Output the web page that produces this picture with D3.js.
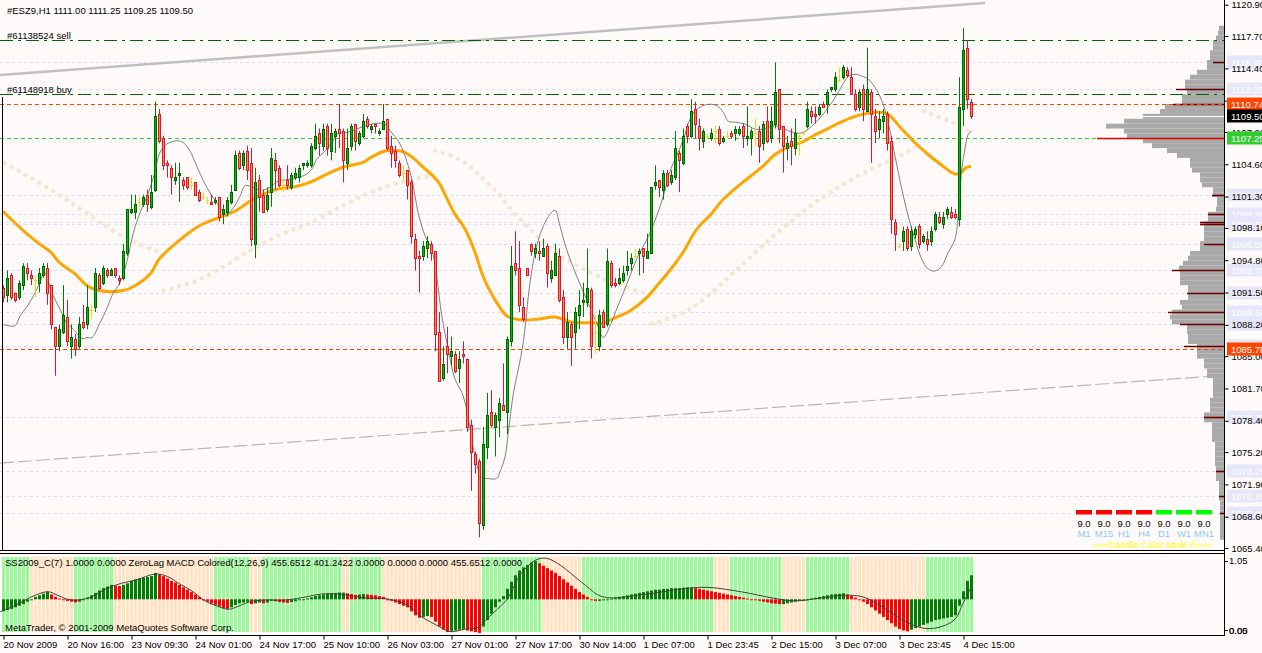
<!DOCTYPE html>
<html><head><meta charset="utf-8">
<script src="https://cdn.jsdelivr.net/npm/d3@7"></script>
<style>
body{margin:0;background:#fffafa;overflow:hidden}
svg{display:block}
text{font-family:"Liberation Sans",Arial,sans-serif;font-size:9.5px}
</style></head><body>
<svg id="c" width="1262" height="653"></svg>
<script>
// ---------------- DATA ----------------
const opens=[1092.0,1091.25,1093.25,1091.5,1091.0,1092.25,1094.0,1093.25,1092.75,1092.5,
1093.25,1094.0,1092.25,1088.0,1086.0,1087.5,1089.0,1086.0,1086.75,1086.0,
1088.5,1088.25,1089.75,1090.0,1093.25,1092.5,1093.75,1093.25,1094.0,1093.0,
1093.0,1095.5,1099.75,1099.75,1100.75,1100.5,1101.5,1100.25,1102.0,1109.75,
1107.25,1104.75,1104.25,1103.0,1103.5,1103.0,1103.25,1102.5,1102.75,1101.75,
1101.25,1101.0,1100.75,1100.75,1101.25,1099.5,1099.75,1100.75,1102.0,1105.75,
1104.5,1106.0,1104.75,1096.5,1103.0,1101.5,1100.0,1101.75,1105.0,1104.25,
1102.5,1103.0,1102.25,1103.25,1103.25,1104.5,1104.5,1104.5,1106.25,1107.75,
1106.5,1108.5,1106.0,1107.5,1108.25,1108.0,1104.75,1106.5,1108.75,1106.75,
1107.5,1109.25,1108.25,1108.75,1107.75,1108.25,1109.25,1106.5,1106.0,1104.75,
1103.75,1104.0,1102.75,1097.0,1095.25,1095.25,1096.0,1096.5,1095.75,1087.5,
1082.75,1086.0,1085.0,1085.25,1083.75,1085.25,1084.75,1078.0,1075.0,1074.25,
1067.75,1075.75,1079.25,1077.75,1078.5,1080.0,1079.25,1086.5,1094.5,1094.0,
1090.0,1094.0,1096.5,1095.5,1095.75,1095.25,1096.25,1093.0,1093.25,1095.25,
1091.0,1087.0,1088.25,1087.5,1089.25,1090.5,1090.5,1091.75,1087.5,1086.0,
1089.5,1088.25,1094.5,1092.5,1092.5,1092.75,1093.75,1094.5,1095.25,1095.5,
1096.0,1095.0,1095.5,1102.5,1103.0,1102.0,1103.75,1102.75,1103.25,1105.75,
1104.75,1108.5,1107.5,1110.25,1108.5,1107.0,1107.5,1107.25,1108.0,1108.25,
1107.0,1107.5,1107.75,1107.75,1107.75,1108.5,1107.25,1107.25,1107.75,1108.0,
1106.75,1109.0,1107.25,1108.75,1112.25,1108.5,1106.25,1107.0,1106.25,1107.5,
1107.75,1108.5,1110.0,1109.75,1109.75,1110.75,1110.75,1112.25,1112.25,1113.25,
1113.5,1114.25,1113.5,1111.75,1110.5,1112.25,1110.0,1112.0,1109.5,1108.25,
1109.0,1109.75,1107.0,1098.75,1096.25,1096.75,1098.0,1096.25,1097.5,1098.25,
1096.75,1097.0,1096.75,1098.0,1099.25,1098.5,1099.5,1099.75,1099.5,1099.0,
1110.25,1116.5,1111.0];
const highs=[1092.25,1093.75,1093.5,1091.5,1092.75,1094.5,1094.5,1093.75,1093.25,1094.0,
1094.5,1094.5,1092.25,1088.0,1088.25,1092.25,1090.75,1088.25,1087.25,1089.0,
1090.25,1092.25,1090.25,1094.0,1093.5,1094.25,1094.0,1094.0,1094.0,1093.25,
1096.5,1100.0,1101.5,1101.5,1101.25,1101.5,1102.0,1103.5,1111.0,1110.25,
1107.5,1105.0,1104.5,1104.75,1104.75,1103.25,1103.25,1103.25,1102.75,1102.0,
1101.75,1101.25,1101.5,1101.25,1101.25,1100.5,1101.25,1102.5,1106.0,1106.0,
1106.0,1106.5,1106.25,1104.25,1103.5,1102.0,1102.25,1106.25,1105.75,1104.5,
1103.25,1104.5,1103.75,1104.25,1104.5,1104.75,1105.0,1106.75,1108.75,1108.25,
1108.75,1108.75,1108.75,1108.25,1110.75,1108.25,1108.25,1108.75,1108.75,1108.0,
1109.75,1109.5,1108.75,1108.75,1108.25,1110.75,1109.25,1107.5,1106.5,1105.0,
1104.5,1104.0,1103.0,1097.5,1095.75,1096.75,1097.25,1096.75,1095.75,1089.5,
1086.0,1088.0,1087.0,1085.5,1085.5,1086.5,1084.75,1078.5,1075.25,1074.5,
1077.75,1081.25,1081.5,1079.25,1080.75,1084.25,1087.0,1096.25,1097.75,1096.75,
1091.0,1094.0,1096.5,1096.5,1096.75,1097.0,1096.5,1094.75,1096.5,1096.0,
1091.75,1089.5,1088.5,1090.0,1091.75,1092.5,1096.0,1092.0,1089.25,1089.75,
1089.75,1096.0,1094.75,1093.0,1094.0,1094.25,1095.75,1095.5,1096.0,1096.0,
1096.0,1097.5,1102.25,1104.5,1103.0,1104.0,1104.0,1104.0,1108.0,1106.0,
1108.25,1108.75,1111.25,1111.0,1109.25,1108.25,1107.75,1108.25,1108.5,1108.5,
1107.5,1108.0,1108.0,1108.5,1108.5,1108.75,1110.5,1108.25,1109.25,1108.5,
1109.0,1110.5,1110.5,1115.0,1112.25,1108.5,1107.5,1108.25,1109.25,1107.75,
1108.0,1111.0,1110.5,1110.5,1110.75,1111.0,1112.25,1112.5,1114.0,1114.5,
1114.75,1114.5,1114.5,1112.25,1112.25,1112.75,1116.5,1112.25,1110.25,1110.0,
1110.25,1110.0,1107.5,1099.0,1096.5,1098.25,1098.25,1098.25,1098.25,1098.5,
1097.5,1097.75,1098.25,1099.75,1099.75,1099.75,1100.25,1100.25,1100.0,1113.5,
1118.5,1117.25,1111.25];
const lows=[1090.5,1090.5,1090.75,1090.5,1090.75,1091.75,1092.75,1092.25,1091.0,1091.5,
1093.0,1090.25,1087.75,1083.0,1085.5,1087.25,1086.0,1084.75,1085.0,1085.75,
1087.75,1087.75,1088.75,1089.5,1091.75,1092.25,1093.0,1093.25,1093.0,1092.25,
1092.75,1095.25,1099.5,1099.0,1100.0,1100.25,1099.75,1100.0,1101.75,1106.75,
1104.0,1103.25,1101.5,1102.5,1100.75,1102.0,1102.0,1102.0,1101.5,1100.75,
1101.0,1100.5,1100.5,1100.5,1098.75,1098.5,1099.25,1100.5,1102.0,1104.0,
1104.0,1103.0,1096.25,1095.0,1099.75,1099.75,1099.75,1100.25,1102.0,1102.25,
1101.75,1102.0,1102.0,1103.0,1102.75,1104.0,1104.25,1104.25,1106.0,1105.5,
1106.0,1105.5,1105.0,1105.75,1106.25,1102.75,1104.0,1106.0,1106.0,1106.5,
1107.25,1108.25,1107.75,1107.75,1107.5,1108.25,1106.0,1104.25,1104.25,1103.25,
1103.0,1101.0,1096.5,1093.75,1091.5,1094.75,1095.0,1094.75,1085.5,1082.5,
1082.5,1083.25,1084.0,1083.25,1082.25,1084.25,1077.25,1071.25,1073.0,1066.5,
1067.25,1074.5,1077.75,1074.75,1076.75,1079.5,1077.0,1086.0,1093.25,1089.5,
1088.5,1093.25,1095.25,1095.0,1094.75,1095.25,1092.0,1092.5,1093.25,1090.5,
1086.25,1085.75,1084.0,1085.75,1087.75,1089.0,1090.0,1084.75,1085.25,1085.5,
1088.0,1088.0,1092.0,1092.0,1092.25,1092.5,1093.25,1093.75,1095.0,1093.25,
1093.5,1095.0,1095.5,1102.0,1101.25,1101.0,1102.25,1102.5,1103.0,1101.75,
1104.5,1106.75,1107.25,1107.25,1106.0,1106.25,1107.25,1107.0,1106.75,1106.5,
1106.75,1107.25,1107.25,1107.0,1107.5,1106.25,1106.5,1105.5,1106.5,1104.75,
1106.0,1106.75,1106.75,1108.25,1106.75,1103.75,1105.0,1104.5,1105.5,1105.5,
1107.5,1108.25,1108.75,1108.75,1109.5,1110.5,1109.75,1112.0,1112.0,1113.0,
1113.25,1113.5,1111.75,1110.0,1110.0,1109.0,1110.0,1104.75,1106.75,1107.25,
1107.75,1106.0,1097.5,1095.75,1096.0,1095.75,1095.75,1095.75,1097.0,1096.0,
1096.5,1095.75,1096.25,1097.75,1098.5,1098.0,1099.0,1099.0,1099.0,1098.25,
1108.5,1110.25,1109.25];
const closes=[1091.0,1093.0,1091.0,1090.75,1092.5,1094.25,1093.5,1093.0,1092.75,1093.5,
1094.25,1091.5,1088.25,1086.0,1087.75,1089.25,1086.5,1087.0,1085.75,1088.25,
1088.0,1090.0,1089.75,1093.5,1092.0,1094.0,1093.25,1093.75,1093.25,1092.75,
1095.75,1100.0,1100.0,1100.5,1100.75,1101.25,1100.5,1101.75,1109.5,1107.0,
1104.5,1104.5,1103.25,1103.25,1103.75,1102.5,1102.25,1102.5,1101.5,1101.0,
1101.25,1101.0,1100.5,1101.0,1099.25,1100.0,1101.0,1101.75,1105.5,1104.25,
1105.75,1104.0,1097.0,1102.75,1101.25,1099.75,1101.5,1105.25,1104.0,1102.5,
1102.5,1102.5,1103.5,1103.75,1104.25,1104.75,1104.75,1106.5,1107.5,1106.75,
1108.25,1106.25,1107.75,1108.0,1107.75,1105.0,1106.25,1108.5,1107.0,1107.75,
1109.0,1108.5,1108.5,1108.5,1108.0,1109.0,1106.25,1105.75,1105.0,1103.5,
1103.75,1102.5,1097.25,1095.0,1095.0,1096.25,1096.75,1095.5,1087.25,1082.5,
1084.25,1085.25,1085.5,1083.5,1084.75,1085.0,1077.75,1075.25,1074.0,1068.0,
1076.0,1079.0,1078.0,1079.0,1080.25,1079.5,1086.75,1094.25,1093.75,1090.25,
1088.75,1093.25,1095.75,1096.0,1095.5,1096.0,1093.5,1093.75,1095.5,1090.75,
1087.0,1088.5,1087.0,1089.5,1090.25,1090.75,1092.0,1086.0,1087.5,1089.25,
1088.0,1094.75,1092.25,1092.25,1093.0,1093.5,1094.25,1095.0,1095.25,1095.75,
1095.25,1095.75,1102.25,1102.75,1102.25,1103.75,1102.5,1103.5,1106.25,1105.0,
1107.5,1107.5,1110.0,1108.75,1107.25,1108.0,1107.5,1107.75,1108.0,1106.75,
1107.25,1107.5,1107.5,1108.25,1108.25,1107.5,1107.5,1108.0,1107.75,1106.5,
1108.75,1107.0,1109.0,1112.0,1108.25,1106.5,1106.75,1106.5,1107.75,1107.5,
1107.75,1110.25,1109.5,1109.5,1110.5,1110.5,1112.0,1112.5,1113.5,1113.25,
1114.5,1113.75,1111.75,1110.25,1112.0,1110.25,1112.25,1109.75,1108.0,1109.25,
1109.5,1106.75,1099.0,1097.5,1096.25,1097.75,1096.0,1097.75,1098.0,1096.5,
1097.25,1096.5,1097.75,1099.5,1098.75,1099.25,1100.0,1099.25,1099.25,1110.5,
1116.25,1111.25,1109.5];

const timeLabels=["20 Nov 2009","20 Nov 16:00","23 Nov 09:30","24 Nov 01:00","24 Nov 17:00","25 Nov 10:00","26 Nov 03:00","27 Nov 01:00","27 Nov 17:00","30 Nov 14:00","1 Dec 07:00","1 Dec 23:45","2 Dec 15:00","3 Dec 07:00","3 Dec 23:45","4 Dec 15:00"];
const timeLabelBars=[0,16,32,48,64,80,96,112,128,144,160,176,192,208,224,240];
const priceTicks=[1120.90,1117.70,1114.40,1111.10,1107.90,1104.60,1101.30,1098.10,1094.80,1091.50,1088.20,1085.00,1081.70,1078.40,1075.20,1071.90,1068.60,1065.40];

const maOrange=[[0,1099.8],[3,1098.6],[6,1097.5],[9,1096.5],[12,1095.6],[14,1094.6],[18,1093.4],[21,1092.2],[24,1091.7],[30,1091.7],[33,1092.2],[37,1093.5],[39,1094.9],[44,1096.8],[49,1098.3],[53,1099.0],[58,1099.8],[62,1100.9],[66,1101.7],[69,1102.1],[73,1102.3],[77,1102.8],[81,1103.6],[85,1104.3],[90,1104.8],[92,1105.3],[95,1105.9],[97,1106.0],[100,1105.9],[103,1105.1],[105,1104.3],[107,1103.6],[109,1102.7],[110.5,1101.5],[113,1099.5],[115.5,1098.0],[118,1095.6],[119.7,1093.5],[121.3,1092.0],[123.4,1090.5],[126,1089.1],[130,1088.7],[134,1088.8],[138,1089.0],[142,1088.5],[147,1088.4],[150,1088.4],[153,1088.9],[157,1089.7],[161,1091.0],[163.5,1092.2],[167,1093.9],[170,1095.6],[173.5,1098.0],[177,1099.5],[180,1101.0],[183,1102.1],[186,1103.1],[190,1104.4],[193,1105.6],[196,1106.3],[200,1106.9],[203,1107.6],[206,1108.2],[210,1109.0],[213,1109.5],[216,1109.8],[219.7,1109.9],[221.3,1109.7],[224.7,1108.2],[228,1106.8],[231.3,1105.6],[234.7,1104.5],[238,1103.6],[239.7,1103.8],[240.5,1104.2],[242,1104.4]];
const maFast=[[0,1088.25],[3,1088.1],[4.25,1089.1],[5.9,1090.0],[7.6,1091.15],[8.8,1092.15],[10.5,1093.5],[12.2,1091.5],[14.25,1089.8],[15.9,1088.4],[17.6,1087.75],[19.7,1086.8],[21,1086.9],[22.2,1086.9],[24.25,1088.4],[25.9,1089.8],[27.6,1091.5],[29.25,1092.5],[30.9,1094.55],[32.6,1097.6],[34.25,1099.65],[35.9,1101.2],[37.6,1103.25],[39.25,1105.8],[40.9,1106.65],[43.4,1107.0],[45.1,1106.8],[46.75,1105.95],[48.4,1104.45],[50.1,1102.9],[51.75,1101.7],[53.4,1100.7],[55.9,1099.5],[57.6,1100.15],[59.25,1101.35],[60.5,1102.4],[62.2,1102.3],[63.8,1102.0],[65.5,1102.0],[67.2,1102.4],[68.8,1102.9],[70.5,1103.0],[72.2,1103.1],[73.8,1103.25],[75.5,1103.5],[77.2,1104.1],[78.4,1105.1],[80.5,1105.95],[82.2,1106.8],[83.8,1107.8],[85.5,1107.8],[87.2,1108.0],[89.7,1108.4],[92.2,1108.7],[93.8,1108.8],[95.5,1108.7],[97.2,1107.8],[98.8,1107.0],[100.5,1105.45],[102.2,1103.1],[103.8,1099.65],[105.5,1097.3],[107.2,1095.9],[108.4,1093.2],[109.7,1089.1],[111.3,1085.7],[113,1082.65],[114.7,1081.3],[115.9,1079.6],[118,1074.8],[119.7,1072.6],[121.3,1072.5],[123.4,1072.5],[124.25,1073.2],[125.5,1074.7],[126.3,1077.1],[127.6,1081.2],[128.8,1083.6],[130.1,1086.5],[131.75,1092.5],[133.4,1096.25],[135.1,1098.3],[136.75,1099.5],[138,1099.9],[139.25,1098.3],[140.9,1095.9],[143.4,1093.2],[145.9,1090.8],[148.4,1088.4],[150.1,1086.9],[151.75,1088.1],[153.4,1089.8],[155.1,1091.5],[156.75,1093.2],[158.4,1094.9],[160.1,1096.25],[161.75,1097.6],[163.4,1099.3],[165.1,1101.35],[166.75,1103.9],[168.4,1105.45],[170.1,1107.15],[171.75,1109.2],[173.4,1110.2],[175.9,1110.7],[178.4,1110.6],[180.1,1109.9],[181.3,1109.0],[183,1108.9],[185.5,1108.7],[188,1108.2],[190.5,1108.2],[192.2,1108.5],[193.8,1108.5],[195.5,1108.2],[197.2,1107.9],[199.7,1107.8],[202.2,1108.5],[204.7,1109.55],[206.3,1110.4],[208,1111.4],[209.7,1112.6],[211.3,1113.55],[213,1113.8],[214.7,1113.6],[216.3,1113.3],[218,1112.45],[219.7,1111.1],[221.3,1108.85],[223,1105.45],[224.7,1102.05],[226.3,1099.3],[228,1096.95],[229.7,1094.9],[231.3,1093.9],[233,1093.7],[234.7,1094.2],[236.3,1095.6],[238,1096.95],[238.8,1099.3],[239.7,1104.1],[240.5,1106.15],[241.3,1107.65],[242.2,1108.0]];
const maSlowSegments=[
 [[0,1104.85],[11.75,1102.05],[20,1099.85],[28.4,1097.6],[39.25,1095.6]],
 [[39.7,1091.65],[49.25,1092.85],[61,1095.6],[68.8,1097.3],[77.2,1098.7],[85.5,1100.5],[93.8,1102.05],[102.2,1103.05],[107.2,1103.45]],
 [[107.6,1106.05],[114.7,1104.95],[122.4,1102.2],[130.1,1098.65],[138.4,1095.6],[146.75,1093.55],[155.1,1092.15],[160.9,1091.4]],
 [[161.75,1088.25],[171.75,1089.8],[183.6,1093.9],[191.3,1096.8],[199.7,1099.65],[208,1102.05],[216.3,1103.95],[224.7,1105.55],[228.4,1106.4]],
 [[229.7,1110.05],[236.3,1109.05],[242.2,1107.85]]
];
const trendUpper=[[-0.75,1113.72],[245.5,1121.07]];
const trendLower=[[-0.75,1074.08],[304.25,1083.02]];

const lavLevels=[1115.00,1112.25,1101.50,1099.50,1098.75,1098.50,1096.50,1093.75,1091.50,1089.50,1088.25,1086.00,1078.75,1073.25,1070.75,1069.00];
const lavLevelVolume=[11,48,12,16,24,24,20,52,37,56,44,40,20,8,5,4];
const orderSell=1117.25, orderBuy=1111.75;
const orderLabels=["#61138524 sell","#61148918 buy"];
const pivotLevels=[1110.74,1085.78];
const pivotVolume=[51];
const greenLevel=1107.25, pocVolume=127;
const lastPrice=1109.50, lastPriceVolume=81;

const profPrices=[1118.5,1118.0,1117.5,1117.0,1116.5,1116.0,1115.5,1115.0,1114.5,1114.0,1113.5,1113.0,1112.5,1112.0,1111.5,1111.0,1110.5,1110.0,1109.5,1109.0,1108.5,1108.0,1107.5,1107.0,1106.5,1106.0,1105.5,1105.0,1104.5,1104.0,1103.5,1103.0,1102.5,1102.0,1101.5,1101.0,1100.5,1100.0,1099.5,1099.0,1098.5,1098.0,1097.5,1097.0,1096.5,1096.0,1095.5,1095.0,1094.5,1094.0,1093.5,1093.0,1092.5,1092.0,1091.5,1091.0,1090.5,1090.0,1089.5,1089.0,1088.5,1088.0,1087.5,1087.0,1086.5,1086.0,1085.5,1085.0,1084.5,1084.0,1083.5,1083.0,1082.5,1082.0,1081.5,1081.0,1080.5,1080.0,1079.5,1079.0,1078.5,1078.0,1077.5,1077.0,1076.5,1076.0,1075.5,1075.0,1074.5,1074.0,1073.5,1073.0,1072.5,1072.0,1071.5,1071.0,1070.5,1070.0,1069.5,1069.0,1068.5,1068.0,1067.5,1067.0,1066.5];
const profVol=[5,6,8,11,11,14,14,17,17,27,34,39,39,37,42,42,59,64,81,100,118,100,97,81,72,57,47,34,34,32,24,24,22,11,11,7,7,8,16,16,20,20,20,20,24,24,34,36,41,45,44,44,44,36,36,36,44,42,52,54,52,37,37,36,36,27,27,27,20,20,17,17,11,11,11,11,14,14,14,20,20,12,12,12,12,9,9,9,9,9,8,8,8,5,5,5,5,4,4,4,4,4,4,4,4];

const macdHist=[-1.5,-1.35,-1.2,-1.0,-0.8,-0.6,-0.3,
0.0,0.3,0.5,0.7,0.9,
0.6,0.3,0.1,-0.1,-0.2,-0.3,-0.4,
-0.3,-0.1,0.2,0.5,0.8,1.1,1.4,1.6,1.8,
1.7,1.65,
1.8,2.0,2.3,2.5,2.6,2.7,2.8,2.9,3.3,
3.1,2.9,2.6,2.3,2.1,1.8,1.5,1.2,0.9,0.6,0.3,0.0,-0.3,-0.5,
-0.7,-0.9,-1.1,-1.2,-1.0,
-0.7,-0.5,-0.4,-0.3,
-0.6,-0.5,-0.4,-0.5,-0.4,-0.2,-0.25,-0.35,-0.4,-0.45,-0.35,-0.25,-0.1,
0.0,0.1,0.25,0.4,0.5,0.6,0.7,0.75,0.8,0.85,0.85,
0.75,0.65,0.55,
0.6,0.65,0.6,0.55,0.5,
0.4,0.3,0.0,-0.2,-0.4,-0.6,-0.8,-1.0,-1.5,-2.0,-2.3,
-2.2,-2.1,-2.2,
-2.8,-3.4,-3.8,-4.1,
-4.0,-3.9,-3.8,-3.7,
-3.9,-4.0,-4.1,-4.2,
-3.4,-2.6,-1.8,-1.0,-0.3,0.4,1.3,2.2,3.0,3.6,4.0,4.3,4.6,4.8,
4.5,4.2,3.9,3.6,3.3,2.9,2.5,2.1,1.7,1.3,0.9,0.6,0.3,0.0,-0.2,
-0.2,-0.1,0.0,0.1,0.2,0.3,0.4,0.5,0.6,0.7,0.8,0.9,1.0,1.1,1.2,1.2,1.3,1.3,1.4,1.4,1.4,1.45,1.5,1.5,
1.4,1.3,1.2,1.1,1.0,0.9,0.8,0.7,0.6,0.5,0.4,0.3,0.2,0.1,0.0,-0.1,-0.2,-0.3,
-0.4,-0.5,-0.55,-0.6,-0.6,
-0.5,-0.4,-0.3,-0.2,-0.1,0.0,0.1,0.2,0.3,0.4,0.5,0.6,0.65,0.7,0.75,
0.6,0.4,0.2,0.0,-0.3,-0.6,-1.0,-1.4,-1.8,-2.2,-2.6,-3.0,-3.4,-3.7,-3.9,-4.0,
-3.8,-3.6,-3.4,-3.2,-3.0,-2.8,-2.6,-2.5,-2.4,-2.3,-2.2,-2.0,
-0.8,1.0,2.3,3.0];
const macdSignal=[[-0.75,-1.55],[2.8,-0.84],[5.9,0.0],[8.2,0.54],[11.3,0.95],[13.5,0.54],[16.2,0.0],[18.9,-0.09],[22.5,0.41],[26,1.37],[29.6,2.0],[33.2,2.41],[38.1,3.16],[41.2,2.83],[43.9,2.0],[47.5,0.95],[50.1,-0.09],[52.8,-0.71],[56.4,-1.25],[58.2,-1.0],[61.75,-0.3],[65.3,-0.09],[70.7,-0.09],[76,0.33],[79.6,0.66],[84.1,0.66],[87.6,0.41],[91.2,0.12],[94.8,0.12],[97.5,-0.09],[101,-0.71],[104.6,-2.16],[109.1,-3.42],[111.75,-4.04],[115.3,-3.75],[118.9,-3.5],[120.7,-2.58],[124.25,-0.92],[126,0.0],[129.6,3.25],[133.2,4.91],[135.9,5.12],[139.25,4.29],[145,2.0],[150,0.3],[160,0.6],[170,1.3],[176,1.5],[185,0.9],[192,0.2],[198,-0.2],[205,0.2],[210,0.5],[215,0.3],[220,-1.0],[225,-2.6],[230,-3.6],[234,-3.5],[238,-2.5],[240,-0.5],[242,1.5]];
const ssState=[1,1,1,1,1,1,1,0,0,0, 0,0,0,0,0,0,0,0,1,1, 1,1,1,1,1,1,1,1,0,0, 0,0,0,0,0,0,0,0,0,0,
0,0,0,0,0,0,0,0,0,0, 0,0,0,1,1,1,1,1,1,1, 1,1,0,0,0,1,1,1,1,1, 1,1,1,1,1,1,1,1,1,1,
1,1,1,1,1,0,0,1,1,1, 1,1,1,1,1,0,0,0,0,0, 0,0,0,0,0,0,0,0,0,0, 0,0,0,0,0,0,0,0,0,0,
1,1,1,1,1,1,1,1,1,1, 1,1,1,1,1,0,0,0,0,0, 0,0,0,0,0,1,1,1,1,1, 1,1,1,1,1,1,1,1,1,1,
1,1,1,1,1,1,1,1,1,1, 1,1,1,1,1,1,1,1,0,0, 0,0,1,1,1,1,1,1,1,1, 1,1,1,1,1,0,0,0,0,0,
0,1,1,1,1,1,1,1,1,1, 1,1,0,0,0,0,0,0,0,0, 0,0,0,0,0,0,0,0,0,0, 0,1,1,1,1,1,1,1,1,1, 1,1,1];

const tfNames=["M1","M15","H1","H4","D1","W1","MN1"];
const tfValues=[9.0,9.0,9.0,9.0,9.0,9.0,9.0];
const tfTrend=[-1,-1,-1,-1,1,1,1];
const header="#ESZ9,H1  1111.00 1111.25 1109.25 1109.50";
const indHeader="SS2009_C(7) 1.0000 0.0000  ZeroLag MACD Colored(12,26,9) 455.6512 401.2422 0.0000 0.0000 0.0000 455.6512 0.0000";
const copyright="MetaTrader, \u00a9 2001-2009 MetaQuotes Software Corp.";
const indAxisLabels=[["1.05",1.05],["0.05",0],["0.00",0]];

// ---------------- DRAW ----------------
const W=1262,H=653,AX=1224;
const svg=d3.select("#c");
const x=d3.scaleLinear().domain([0,242]).range([3,971]);
const y=d3.scaleLinear().domain([1065.2,1121.38]).range([550,0]);
const yM=d3.scaleLinear().domain([-4.2125,5.2875]).range([633,557]);
const yS=d3.scaleLinear().domain([0,1.05]).range([630,560.5]);
const xP=d3.scaleLinear().domain([0,100]).range([AX,AX-100]);
const py=v=>Math.round(y(v))+0.5;

svg.append("rect").attr("width",W).attr("height",H).attr("fill","#fffafa");
const defs=svg.append("defs");
defs.append("clipPath").attr("id","cm").append("rect").attr("x",0).attr("y",0).attr("width",AX).attr("height",550);
defs.append("clipPath").attr("id","ci").append("rect").attr("x",0).attr("y",554).attr("width",AX).attr("height",81);

const gm=svg.append("g").attr("clip-path","url(#cm)");

gm.selectAll("line.lav").data(lavLevels).join("line")
 .attr("x1",0).attr("x2",AX).attr("y1",d=>py(d)).attr("y2",d=>py(d))
 .attr("stroke","#dcdcf6").attr("stroke-dasharray","3,3");

const lineGen=d3.line().x(d=>x(d[0])).y(d=>y(d[1])).curve(d3.curveCatmullRom);
maSlowSegments.forEach(seg=>{
 gm.append("path").attr("d",lineGen(seg)).attr("fill","none")
  .attr("stroke","#f6e5d3").attr("stroke-width",4).attr("stroke-dasharray","4,4");
});

gm.append("path").attr("d",d3.line().x(d=>x(d[0])).y(d=>y(d[1]))(trendUpper))
 .attr("stroke","#c0c0c0").attr("stroke-width",2.5).attr("fill","none");
gm.append("path").attr("d",d3.line().x(d=>x(d[0])).y(d=>y(d[1]))(trendLower))
 .attr("stroke","#b8b8b8").attr("stroke-width",1.2).attr("fill","none").attr("stroke-dasharray","14,4");

gm.selectAll("rect.prof").data(profPrices).join("rect")
 .attr("x",(d,i)=>xP(profVol[i])).attr("width",(d,i)=>AX-xP(profVol[i]))
 .attr("y",d=>y(d+0.25)).attr("height",d=>y(d-0.25)-y(d+0.25))
 .attr("fill","#a9a9a9");

gm.selectAll("line.mar").data(lavLevels).join("line")
 .attr("x1",(d,i)=>xP(lavLevelVolume[i])).attr("x2",AX).attr("y1",d=>py(d)).attr("y2",d=>py(d))
 .attr("stroke","#6b0000").attr("stroke-width",1.6);
gm.append("line").attr("x1",xP(pivotVolume[0])).attr("x2",AX).attr("y1",py(pivotLevels[0])).attr("y2",py(pivotLevels[0]))
 .attr("stroke","#6b0000").attr("stroke-width",1.6);

[orderSell,orderBuy].forEach(v=>{
 gm.append("line").attr("x1",0).attr("x2",AX).attr("y1",py(v)).attr("y2",py(v))
  .attr("stroke","#006400").attr("stroke-dasharray","13,5,3,5");
});
pivotLevels.forEach(v=>{
 gm.append("line").attr("x1",0).attr("x2",AX).attr("y1",py(v)).attr("y2",py(v))
  .attr("stroke","#ff4500").attr("stroke-dasharray","4,3");
});
gm.append("line").attr("x1",0).attr("x2",AX).attr("y1",py(greenLevel)).attr("y2",py(greenLevel))
 .attr("stroke","#32cd32").attr("stroke-dasharray","4,3");
gm.append("line").attr("x1",xP(pocVolume)).attr("x2",AX).attr("y1",py(greenLevel)).attr("y2",py(greenLevel))
 .attr("stroke","#e00000").attr("stroke-width",1.5);
gm.append("line").attr("x1",xP(lastPriceVolume)).attr("x2",AX).attr("y1",py(lastPrice)).attr("y2",py(lastPrice))
 .attr("stroke","#ffffff").attr("stroke-width",1);

gm.append("path").attr("d",lineGen(maOrange)).attr("fill","none").attr("stroke","#ffa500").attr("stroke-width",3);
gm.append("path").attr("d",lineGen(maFast)).attr("fill","none").attr("stroke","#808080").attr("stroke-width",1);

const bars=d3.range(opens.length);
const cx=i=>Math.round(x(i));
const kind=i=>closes[i]>opens[i]?1:(closes[i]<opens[i]?-1:0);
const wickCol=i=>kind(i)>0?"#008000":(kind(i)<0?"#dc143c":"#ffd700");
const gc=gm.append("g");
gc.selectAll("line.w").data(bars).join("line")
 .attr("x1",i=>cx(i)+0.5).attr("x2",i=>cx(i)+0.5)
 .attr("y1",i=>y(highs[i])).attr("y2",i=>y(lows[i]))
 .attr("stroke",wickCol);
gc.selectAll("rect.b").data(bars.filter(i=>kind(i)!==0)).join("rect")
 .attr("x",i=>cx(i)-0.5).attr("width",2)
 .attr("y",i=>Math.round(y(Math.max(opens[i],closes[i])))+0.5)
 .attr("height",i=>Math.max(1,Math.round(y(Math.min(opens[i],closes[i])))-Math.round(y(Math.max(opens[i],closes[i])))))
 .attr("fill",i=>kind(i)>0?"#00c000":"#ff8c28")
 .attr("stroke",i=>kind(i)>0?"#006400":"#dc143c");
gc.selectAll("line.d").data(bars.filter(i=>kind(i)===0)).join("line")
 .attr("x1",i=>cx(i)-1).attr("x2",i=>cx(i)+2)
 .attr("y1",i=>py(opens[i])).attr("y2",i=>py(opens[i]))
 .attr("stroke","#ffd700");

// left frame line of the price window
svg.append("line").attr("x1",2.5).attr("x2",2.5).attr("y1",97).attr("y2",550).attr("stroke","#000");

svg.append("text").attr("x",7).attr("y",13.5).text(header).attr("fill","#000");
svg.append("text").attr("x",7).attr("y",38.5).text(orderLabels[0]).attr("fill","#000");
svg.append("text").attr("x",7).attr("y",93).text(orderLabels[1]).attr("fill","#000");

const lg=svg.append("g");
tfNames.forEach((n,k)=>{
 const bx=1076+20*k;
 lg.append("rect").attr("x",bx).attr("y",510).attr("width",16).attr("height",4.5).attr("fill",tfTrend[k]<0?"#ff0000":"#00ff00");
 lg.append("text").attr("x",bx+8).attr("y",527).attr("text-anchor","middle").attr("fill","#000").text(tfValues[k].toFixed(1));
 lg.append("text").attr("x",bx+8).attr("y",537).attr("text-anchor","middle").attr("fill","#87ceeb").text(n);
});
lg.append("text").attr("x",1212).attr("y",547.5).attr("text-anchor","end").attr("fill","#ffff00").text("\u00bb\u00bb\u00bbCandle Color Multi \u00a9\u00ab\u00ab\u00ab");

const boxes=svg.append("g");
function priceBox(g,v,bg,fg,label){
 const yy=Math.round(y(v));
 g.append("rect").attr("x",AX+3).attr("y",yy-6.5).attr("width",W-AX-3).attr("height",13).attr("fill",bg);
 g.append("text").attr("x",AX+7).attr("y",yy+3.5).attr("fill",fg).text(label);
}
lavLevels.forEach(v=>priceBox(boxes,v,"#e6e6fa","#ffffff",v.toFixed(2)));
const ya=svg.append("g").attr("transform",`translate(${AX+0.5},0)`)
 .call(d3.axisRight(y).tickValues(priceTicks).tickFormat(d3.format(".2f")).tickSize(4).tickPadding(3));
ya.select(".domain").remove();
ya.selectAll("text").attr("fill","#000").style("font-size","9.5px").style("font-family","Liberation Sans, Arial, sans-serif");
ya.selectAll("line").attr("stroke","#000");
const boxes2=svg.append("g");
priceBox(boxes2,pivotLevels[0],"#ff4500","#fff",pivotLevels[0].toFixed(2));
priceBox(boxes2,lastPrice,"#000","#fff",lastPrice.toFixed(2));
priceBox(boxes2,greenLevel,"#32cd32","#fff",greenLevel.toFixed(2));
priceBox(boxes2,pivotLevels[1],"#ff4500","#fff",pivotLevels[1].toFixed(2));

const gi=svg.append("g").attr("clip-path","url(#ci)");
gi.selectAll("rect.s").data(bars).join("rect")
 .attr("x",i=>cx(i)-1).attr("width",3).attr("y",557).attr("height",75)
 .attr("fill",i=>ssState[i]?"#98fb98":"#ffe4c4");
gi.selectAll("rect.h").data(bars).join("rect")
 .attr("x",i=>cx(i)-1).attr("width",3)
 .attr("y",i=>Math.min(yM(0),yM(macdHist[i])))
 .attr("height",i=>Math.max(1,Math.abs(yM(macdHist[i])-yM(0))))
 .attr("fill",i=>(i===0||macdHist[i]>=macdHist[i-1])?"#008000":"#ff0000");
gi.append("path").attr("d",d3.line().x(d=>x(d[0])).y(d=>yM(d[1])).curve(d3.curveCatmullRom)(macdSignal))
 .attr("fill","none").attr("stroke","#404040").attr("stroke-width",1);
svg.append("text").attr("x",5).attr("y",566).attr("fill","#000").text(indHeader);
svg.append("text").attr("x",5).attr("y",631).attr("fill","#000").text(copyright);

svg.append("line").attr("x1",0).attr("x2",AX).attr("y1",550.5).attr("y2",550.5).attr("stroke","#000");
svg.append("line").attr("x1",0).attr("x2",AX).attr("y1",553.5).attr("y2",553.5).attr("stroke","#000");
svg.append("line").attr("x1",0).attr("x2",AX).attr("y1",635.5).attr("y2",635.5).attr("stroke","#000");
svg.append("line").attr("x1",AX+0.5).attr("x2",AX+0.5).attr("y1",0).attr("y2",636).attr("stroke","#000");
const ia=svg.append("g");
indAxisLabels.forEach(d=>{
 ia.append("line").attr("x1",AX).attr("x2",AX+4).attr("y1",Math.round(yS(d[1]))+0.5).attr("y2",Math.round(yS(d[1]))+0.5).attr("stroke","#000");
 ia.append("text").attr("x",AX+5).attr("y",yS(d[1])+3.5).attr("fill","#000").text(d[0]);
});

const xa=svg.append("g").attr("transform","translate(0,635.5)")
 .call(d3.axisBottom(x).tickValues(timeLabelBars).tickFormat((d,i)=>timeLabels[i]).tickSize(4).tickPadding(2));
xa.select(".domain").remove();
xa.selectAll(".tick line").attr("stroke","#000").attr("transform","translate(0.5,0)");
xa.selectAll("text").attr("text-anchor","start").attr("fill","#000").style("font-size","9.5px").style("font-family","Liberation Sans, Arial, sans-serif");
</script></body></html>
